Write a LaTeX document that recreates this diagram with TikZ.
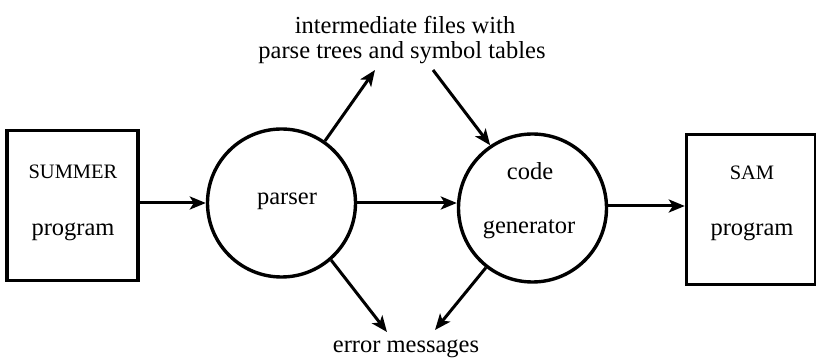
\documentclass[tikz,border=0pt]{standalone}
\usepackage{fontspec}
\setmainfont{Liberation Serif}
\usetikzlibrary{arrows.meta}
\tikzset{
  outlined/.style={draw=black, line width=3.4pt, inner sep=0pt},
  boxnode/.style={outlined, rectangle, minimum width=131pt, minimum height=150pt},
  procnode/.style={outlined, circle, minimum size=148pt},
  txt/.style={inner sep=0pt, font=\fontsize{24.5}{28}\selectfont},
  captxt/.style={inner sep=0pt, font=\fontsize{20.5}{24}\selectfont},
  flow/.style={line width=3pt, -{Stealth[length=16pt,width=13pt,inset=4pt]}},
}
\begin{document}
\begin{tikzpicture}[x=1pt,y=-1pt]
\useasboundingbox (0,0) rectangle (816,363);
% boxes and circles
\node[boxnode] (src) at (72.5,205.5) {};
\node[procnode] (parser) at (281.5,203) {};
\node[procnode] (cg) at (532.5,208) {};
\node[boxnode, minimum width=129pt] (sam) at (751,209.5) {};
% texts
\node[captxt] (summer) at (73,172) {SUMMER};
\node[txt] (prog1) at (73,232) {program};
\node[txt] (ptxt) at (287,201) {parser};
\node[txt] (code) at (530,171) {code};
\node[txt] (gen) at (529,229) {generator};
\node[captxt] (samtxt) at (752,173) {SAM};
\node[txt] (prog2) at (752,232) {program};
\node[txt] (inter1) at (405,25) {intermediate files with};
\node[txt] (inter2) at (402,53) {parse trees and symbol tables};
\node[txt] (err) at (406,349) {error messages};
% connector end points
\coordinate (upend) at (375,70);
\coordinate (downstart) at (433,70);
\coordinate (e1end) at (387,332);
\coordinate (e2end) at (435,330);
% connectors
\draw[flow] (src.east |- 0,203) -- (parser.west |- 0,203);
\draw[flow] (parser.east |- 0,203) -- (cg.west |- 0,203);
\draw[flow] (cg.east |- 0,206) -- (sam.west |- 0,206);
\draw[flow] (parser.55) -- (upend);
\draw[flow] (downstart) -- (cg.124);
\draw[flow] (parser.-49) -- (e1end);
\draw[flow] (cg.-128) -- (e2end);
\end{tikzpicture}
\end{document}
